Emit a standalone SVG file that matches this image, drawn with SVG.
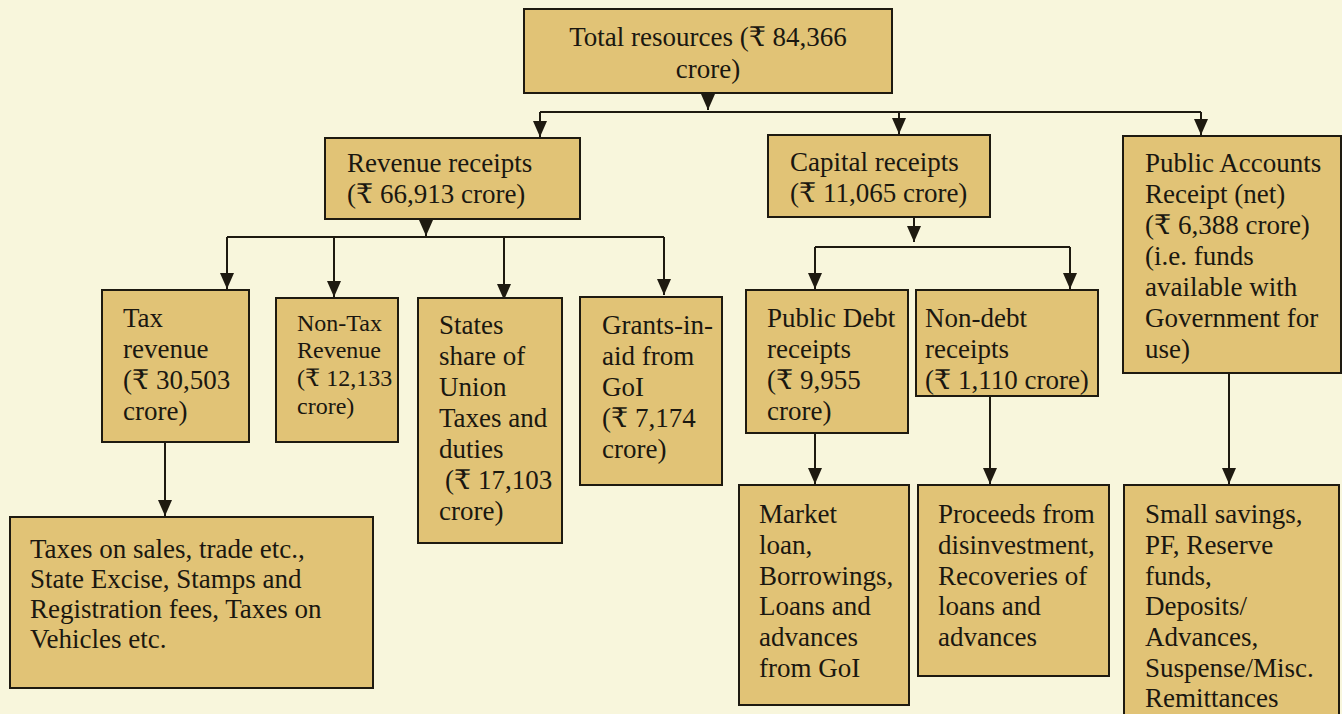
<svg xmlns="http://www.w3.org/2000/svg" width="1342" height="714" viewBox="0 0 1342 714">
<style>
.bg{fill:#f8f6dc}
.box{fill:#e1c376;stroke:#1e1a10;stroke-width:2}
.t{font-family:"Liberation Serif","Times New Roman","DejaVu Serif",serif;font-size:27px;fill:#1a1710}
.s{font-size:24px}
.c{stroke:#1e1a10;stroke-width:2;fill:none}
</style>
<defs>
<marker id="ad" markerUnits="userSpaceOnUse" markerWidth="16" markerHeight="14" refX="16" refY="7" orient="auto" viewBox="0 0 16 14">
<path d="M0,0 L16,7 L0,14 Z" fill="#1e1a10"/>
</marker>
</defs>
<rect class="bg" x="0" y="0" width="1342" height="714"/>

<g id="connectors">
<line class="c" x1="708" y1="93" x2="708" y2="110" marker-end="url(#ad)"/>
<polyline class="c" points="540,112 1201,112"/>
<line class="c" x1="540" y1="112" x2="540" y2="137" marker-end="url(#ad)"/>
<line class="c" x1="899" y1="112" x2="899" y2="134" marker-end="url(#ad)"/>
<line class="c" x1="1201" y1="112" x2="1201" y2="135" marker-end="url(#ad)"/>

<line class="c" x1="426" y1="219" x2="426" y2="236" marker-end="url(#ad)"/>
<polyline class="c" points="227,237 664,237"/>
<line class="c" x1="227" y1="237" x2="227" y2="289" marker-end="url(#ad)"/>
<line class="c" x1="334" y1="237" x2="334" y2="297" marker-end="url(#ad)"/>
<line class="c" x1="504" y1="237" x2="504" y2="300" marker-end="url(#ad)"/>
<line class="c" x1="664" y1="237" x2="664" y2="295" marker-end="url(#ad)"/>

<line class="c" x1="165" y1="442" x2="165" y2="516" marker-end="url(#ad)"/>

<line class="c" x1="914" y1="217" x2="914" y2="242" marker-end="url(#ad)"/>
<polyline class="c" points="815,247 1070,247"/>
<line class="c" x1="815" y1="247" x2="815" y2="289" marker-end="url(#ad)"/>
<line class="c" x1="1070" y1="247" x2="1070" y2="289" marker-end="url(#ad)"/>

<line class="c" x1="815" y1="433" x2="815" y2="484" marker-end="url(#ad)"/>
<line class="c" x1="990" y1="396" x2="990" y2="484" marker-end="url(#ad)"/>
<line class="c" x1="1229" y1="373" x2="1229" y2="484" marker-end="url(#ad)"/>
</g>

<g id="total">
<rect class="box" x="524" y="9" width="368" height="84"/>
<text class="t" x="708" y="46" text-anchor="middle">Total resources (₹ 84,366</text>
<text class="t" x="708" y="78" text-anchor="middle">crore)</text>
</g>

<g id="revenue">
<rect class="box" x="325" y="138" width="255" height="81"/>
<text class="t" x="347" y="172">Revenue receipts</text>
<text class="t" x="347" y="203">(₹ 66,913 crore)</text>
</g>

<g id="capital">
<rect class="box" x="768" y="135" width="222" height="82"/>
<text class="t" x="790" y="171">Capital receipts</text>
<text class="t" x="790" y="202">(₹ 11,065 crore)</text>
</g>

<g id="public-accounts">
<rect class="box" x="1123" y="136" width="218" height="237"/>
<text class="t" x="1145" y="172">Public Accounts</text>
<text class="t" x="1145" y="203">Receipt (net)</text>
<text class="t" x="1145" y="234">(₹ 6,388 crore)</text>
<text class="t" x="1145" y="265">(i.e. funds</text>
<text class="t" x="1145" y="296">available with</text>
<text class="t" x="1145" y="327">Government for</text>
<text class="t" x="1145" y="358">use)</text>
</g>

<g id="tax-revenue">
<rect class="box" x="102" y="290" width="147" height="152"/>
<text class="t" x="123" y="327">Tax</text>
<text class="t" x="123" y="358">revenue</text>
<text class="t" x="123" y="389">(₹ 30,503</text>
<text class="t" x="123" y="420">crore)</text>
</g>

<g id="non-tax">
<rect class="box" x="276" y="298" width="122" height="144"/>
<text class="t s" x="297" y="331">Non-Tax</text>
<text class="t s" x="297" y="358">Revenue</text>
<text class="t s" x="297" y="386">(₹ 12,133</text>
<text class="t s" x="297" y="414">crore)</text>
</g>

<g id="states-share">
<rect class="box" x="418" y="298" width="144" height="245"/>
<text class="t" x="439" y="334">States</text>
<text class="t" x="439" y="365">share of</text>
<text class="t" x="439" y="396">Union</text>
<text class="t" x="439" y="427">Taxes and</text>
<text class="t" x="439" y="458">duties</text>
<text class="t" x="445" y="489">(₹ 17,103</text>
<text class="t" x="439" y="520">crore)</text>
</g>

<g id="grants">
<rect class="box" x="580" y="297" width="142" height="188"/>
<text class="t" x="602" y="334">Grants-in-</text>
<text class="t" x="602" y="365">aid from</text>
<text class="t" x="602" y="396">GoI</text>
<text class="t" x="602" y="427">(₹ 7,174</text>
<text class="t" x="602" y="458">crore)</text>
</g>

<g id="taxes-detail">
<rect class="box" x="10" y="517" width="363" height="171"/>
<text class="t" x="30" y="558">Taxes on sales, trade etc.,</text>
<text class="t" x="30" y="588">State Excise, Stamps and</text>
<text class="t" x="30" y="618">Registration fees, Taxes on</text>
<text class="t" x="30" y="648">Vehicles etc.</text>
</g>

<g id="public-debt">
<rect class="box" x="746" y="290" width="162" height="143"/>
<text class="t" x="767" y="327">Public Debt</text>
<text class="t" x="767" y="358">receipts</text>
<text class="t" x="767" y="389">(₹ 9,955</text>
<text class="t" x="767" y="420">crore)</text>
</g>

<g id="non-debt">
<rect class="box" x="916" y="290" width="182" height="106"/>
<text class="t" x="925" y="327">Non-debt</text>
<text class="t" x="925" y="358">receipts</text>
<text class="t" x="925" y="389">(₹ 1,110 crore)</text>
</g>

<g id="market-loan">
<rect class="box" x="739" y="485" width="170" height="220"/>
<text class="t" x="759" y="523">Market</text>
<text class="t" x="759" y="554">loan,</text>
<text class="t" x="759" y="585">Borrowings,</text>
<text class="t" x="759" y="615">Loans and</text>
<text class="t" x="759" y="646">advances</text>
<text class="t" x="759" y="677">from GoI</text>
</g>

<g id="proceeds">
<rect class="box" x="918" y="485" width="191" height="191"/>
<text class="t" x="938" y="523">Proceeds from</text>
<text class="t" x="938" y="554">disinvestment,</text>
<text class="t" x="938" y="585">Recoveries of</text>
<text class="t" x="938" y="615">loans and</text>
<text class="t" x="938" y="646">advances</text>
</g>

<g id="small-savings">
<rect class="box" x="1124" y="485" width="215" height="240"/>
<text class="t" x="1145" y="523">Small savings,</text>
<text class="t" x="1145" y="554">PF, Reserve</text>
<text class="t" x="1145" y="585">funds,</text>
<text class="t" x="1145" y="615">Deposits/</text>
<text class="t" x="1145" y="646">Advances,</text>
<text class="t" x="1145" y="677">Suspense/Misc.</text>
<text class="t" x="1145" y="707">Remittances</text>
</g>
</svg>
